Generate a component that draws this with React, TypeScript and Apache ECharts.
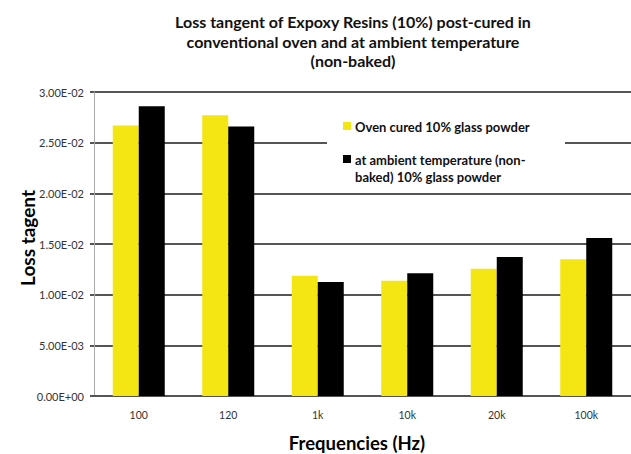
import React, { useEffect, useRef } from "react";
import * as echarts from "echarts";

// Loss tangent per measurement frequency
const frequencies = ["100", "120", "1k", "10k", "20k", "100k"];
const ovenCured = [0.0267, 0.0277, 0.01187, 0.01138, 0.01256, 0.01349];
const ambientCured = [0.0286, 0.0266, 0.01125, 0.01211, 0.01372, 0.0156];

const seriesNames = [
  "Oven cured 10% glass powder",
  "at ambient temperature (non-baked) 10% glass powder",
];
const legendLines = [
  ["Oven cured 10% glass powder"],
  ["at ambient temperature (non-", "baked) 10% glass powder"],
];
const titleText =
  "Loss tangent of Expoxy Resins (10%) post-cured in\nconventional oven and at ambient temperature\n(non-baked)";
const yAxisTitle = "Loss tagent";
const xAxisTitle = "Frequencies (Hz)";

const YELLOW = "#F4E613";
const BLACK = "#000000";
const FONT = "Lato, 'Liberation Sans', sans-serif";

// Spreadsheet-style scientific notation, e.g. 2.50E-02
function sci(v: number): string {
  if (v === 0) return "0.00E+00";
  const exp = Math.floor(Math.log10(Math.abs(v)));
  const mant = v / Math.pow(10, exp);
  const sign = exp < 0 ? "-" : "+";
  const e = String(Math.abs(exp)).padStart(2, "0");
  return `${mant.toFixed(2)}E${sign}${e}`;
}

export default function App() {
  const ref = useRef<HTMLDivElement>(null);

  useEffect(() => {
    if (!ref.current) return;
    const chart = echarts.init(ref.current, undefined, { renderer: "svg" });

    const colors = [YELLOW, BLACK];
    const legendGraphics: any[] = [
      {
        type: "rect",
        z: 100,
        shape: { x: 327, y: 101, width: 238, height: 88 },
        style: { fill: "#ffffff" },
      },
    ];
    const itemY = [126, 159];
    legendLines.forEach((lines, i) => {
      legendGraphics.push({
        type: "rect",
        z: 101,
        shape: { x: 343, y: itemY[i] - 4, width: 8, height: 8 },
        style: { fill: colors[i] },
      });
      legendGraphics.push({
        type: "text",
        z: 101,
        x: 355,
        y: itemY[i] - 8,
        style: {
          text: lines.join("\n"),
          font: `bold 13px ${FONT}`,
          fill: "#111",
          lineHeight: 17,
          textVerticalAlign: "top",
        },
      });
    });

    chart.setOption({
      animation: false,
      backgroundColor: "#ffffff",
      grid: { left: 94, top: 92, width: 540, height: 304, containLabel: false },
      xAxis: {
        type: "category",
        data: frequencies,
        axisLine: { lineStyle: { color: "#555", width: 2 } },
        axisTick: { show: false },
        axisLabel: {
          color: "#333",
          fontSize: 10.5,
          fontFamily: FONT,
          margin: 13,
        },
      },
      yAxis: {
        type: "value",
        min: 0,
        max: 0.03,
        interval: 0.005,
        axisLine: { show: true, lineStyle: { color: "#aaa", width: 1 } },
        axisTick: { show: true, length: 4, lineStyle: { color: "#555", width: 2 } },
        axisLabel: {
          color: "#333",
          fontSize: 11,
          fontFamily: FONT,
          margin: 10,
          formatter: (v: number) => sci(v),
        },
        splitLine: { show: true, lineStyle: { color: "#555", width: 2 } },
      },
      series: [
        {
          name: seriesNames[0],
          type: "bar",
          data: ovenCured,
          barWidth: 26,
          barGap: "0%",
          itemStyle: { color: YELLOW },
        },
        {
          name: seriesNames[1],
          type: "bar",
          data: ambientCured,
          barWidth: 26,
          barGap: "0%",
          itemStyle: { color: BLACK },
        },
      ],
      graphic: [
        {
          type: "text",
          x: 353,
          y: 12,
          style: {
            text: titleText,
            font: `bold 16px ${FONT}`,
            fill: "#111",
            textAlign: "center",
            lineHeight: 19.5,
          },
        },
        {
          type: "text",
          x: 27,
          y: 238,
          rotation: Math.PI / 2,
          style: {
            text: yAxisTitle,
            font: `bold 19px ${FONT}`,
            fill: "#000",
            textAlign: "center",
            textVerticalAlign: "middle",
          },
        },
        {
          type: "text",
          x: 357,
          y: 443,
          style: {
            text: xAxisTitle,
            font: `bold 18.5px ${FONT}`,
            fill: "#000",
            textAlign: "center",
            textVerticalAlign: "middle",
          },
        },
        ...legendGraphics,
      ],
    });

    return () => chart.dispose();
  }, []);

  return (
    <div
      ref={ref}
      style={{ position: "absolute", left: 0, top: 0, width: 631, height: 454 }}
    />
  );
}
